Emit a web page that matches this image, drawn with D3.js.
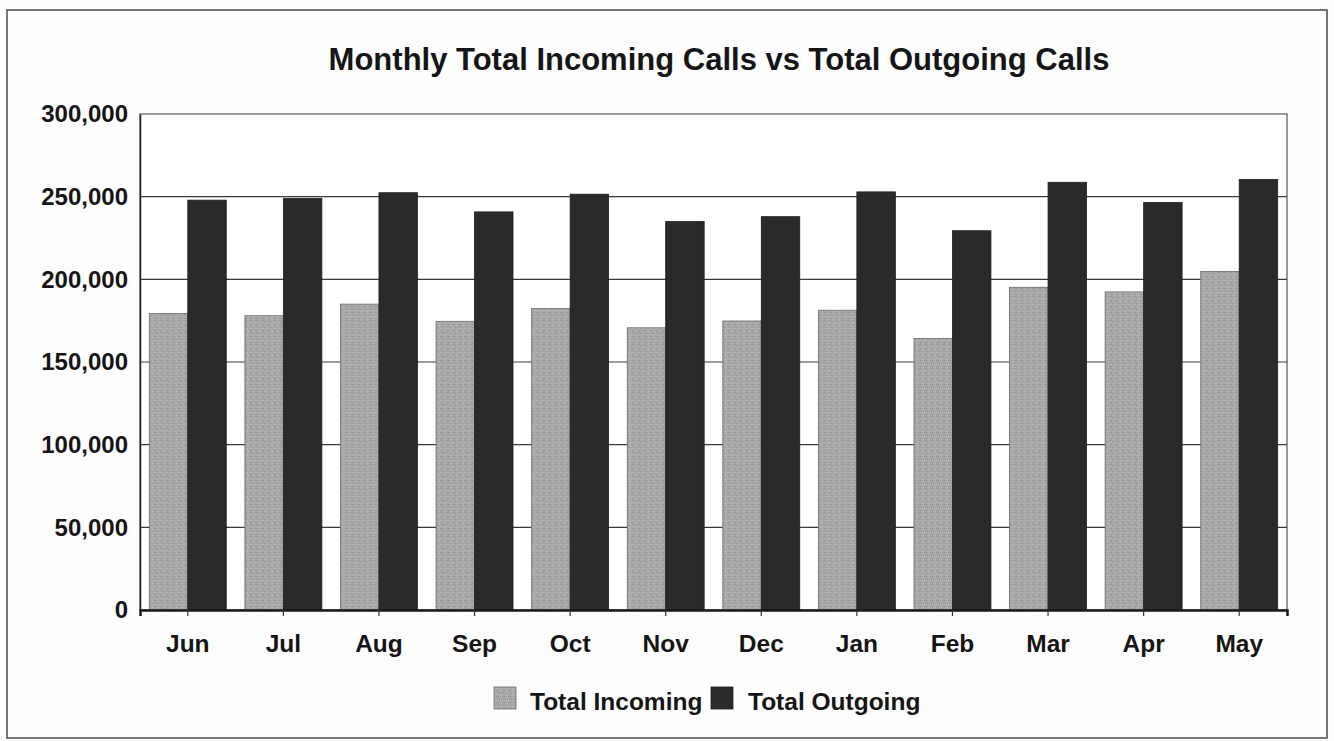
<!DOCTYPE html>
<html>
<head>
<meta charset="utf-8">
<script src="https://cdn.jsdelivr.net/npm/d3@7/dist/d3.min.js"></script>
<style>
  html, body { margin: 0; padding: 0; background: #fdfdfd; }
  svg { display: block; }
  text { font-family: "Liberation Sans", Arial, sans-serif; font-weight: bold; fill: #151515; }
</style>
</head>
<body>
<svg id="chart" width="1334" height="741"></svg>
<script>
const months = ["Jun", "Jul", "Aug", "Sep", "Oct", "Nov", "Dec", "Jan", "Feb", "Mar", "Apr", "May"];
const seriesNames = ["Total Incoming", "Total Outgoing"];
const incoming = [179300, 178000, 185000, 174600, 182300, 170700, 174800, 181300, 164200, 195200, 192400, 204800];
const outgoing = [247900, 249000, 252400, 240800, 251500, 235000, 237900, 252900, 229400, 258700, 246500, 260400];
const yTicks = [0, 50000, 100000, 150000, 200000, 250000, 300000];
const titleText = "Monthly Total Incoming Calls vs Total Outgoing Calls";

const W = 1334, H = 741;
const plot = { left: 140, right: 1287, top: 114, bottom: 610 };

const svg = d3.select("#chart");

// texture for incoming bars
const defs = svg.append("defs");
const pat = defs.append("pattern")
  .attr("id", "stipple").attr("patternUnits", "userSpaceOnUse")
  .attr("width", 6).attr("height", 6);
pat.append("rect").attr("width", 6).attr("height", 6).attr("fill", "#a8a8a8");
[[0,0,"#8a8a8a"],[3,1,"#c2c2c2"],[1,3,"#929292"],[4,4,"#bababa"],[5,2,"#909090"],[2,5,"#bdbdbd"],[0,4,"#b5b5b5"],[4,0,"#969696"]]
  .forEach(([x, y, c]) => pat.append("rect").attr("x", x).attr("y", y).attr("width", 1).attr("height", 1).attr("fill", c));

// outer frame
svg.append("rect").attr("x", 7).attr("y", 10).attr("width", W - 14).attr("height", 728)
  .attr("fill", "#fdfdfd").attr("stroke", "#4a4a4a").attr("stroke-width", 1.5);

// title
svg.append("text").attr("x", 719).attr("y", 70).attr("text-anchor", "middle")
  .attr("font-size", 31).text(titleText);

// scales
const x0 = d3.scaleBand().domain(months).range([plot.left, plot.right]).paddingInner(0.195).paddingOuter(0.0975);
const x1 = d3.scaleBand().domain(seriesNames).range([0, x0.bandwidth()]).padding(0);
const y = d3.scaleLinear().domain([0, 300000]).range([plot.bottom, plot.top]);

// plot area background & frame
svg.append("rect").attr("x", plot.left).attr("y", plot.top)
  .attr("width", plot.right - plot.left).attr("height", plot.bottom - plot.top)
  .attr("fill", "#ffffff").attr("stroke", "#555").attr("stroke-width", 1.2);

// gridlines
svg.append("g").selectAll("line").data(yTicks.filter(t => t > 0 && t < 300000)).join("line")
  .attr("x1", plot.left).attr("x2", plot.right)
  .attr("y1", d => y(d)).attr("y2", d => y(d))
  .attr("stroke", "#3a3a3a").attr("stroke-width", 1.2);

// y axis
const yAxis = d3.axisLeft(y).tickValues(yTicks).tickSize(0).tickPadding(12)
  .tickFormat(d3.format(","));
const gy = svg.append("g").attr("transform", `translate(${plot.left},0)`).call(yAxis);
gy.select(".domain").attr("stroke", "#222").attr("stroke-width", 1.5);
gy.selectAll("text").attr("font-size", 24).attr("font-family", "Liberation Sans, Arial, sans-serif")
  .attr("font-weight", "bold").attr("fill", "#151515");

// bars
const data = months.map((m, i) => ({ month: m, values: [
  { key: seriesNames[0], value: incoming[i] },
  { key: seriesNames[1], value: outgoing[i] } ] }));

const groups = svg.append("g").selectAll("g").data(data).join("g")
  .attr("transform", d => `translate(${x0(d.month)},0)`);
groups.selectAll("rect").data(d => d.values).join("rect")
  .attr("x", d => x1(d.key))
  .attr("y", d => y(d.value))
  .attr("width", x1.bandwidth())
  .attr("height", d => y(0) - y(d.value))
  .attr("fill", d => d.key === seriesNames[0] ? "url(#stipple)" : "#2a2a2a")
  .attr("stroke", d => d.key === seriesNames[0] ? "#6a6a6a" : "#1e1e1e")
  .attr("stroke-width", 0.8);

// x axis
const xAxis = d3.axisBottom(x0).tickSize(6).tickPadding(19);
const gx = svg.append("g").attr("transform", `translate(0,${plot.bottom})`).call(xAxis);
gx.select(".domain").attr("stroke", "#1a1a1a").attr("stroke-width", 2.5);
gx.selectAll(".tick line").attr("stroke", "#333").attr("stroke-width", 1.2);
gx.selectAll("text").attr("font-size", 24.5).attr("font-family", "Liberation Sans, Arial, sans-serif")
  .attr("font-weight", "bold").attr("fill", "#151515");

// legend
const legend = svg.append("g");
const legendItems = [
  { name: seriesNames[0], fill: "url(#stipple)", stroke: "#6a6a6a", x: 494, tx: 530 },
  { name: seriesNames[1], fill: "#2a2a2a", stroke: "#1e1e1e", x: 711, tx: 748 }
];
legendItems.forEach(it => {
  legend.append("rect").attr("x", it.x).attr("y", 687).attr("width", 22).attr("height", 22)
    .attr("fill", it.fill).attr("stroke", it.stroke).attr("stroke-width", 0.8);
  legend.append("text").attr("x", it.tx).attr("y", 710).attr("font-size", 24.5).text(it.name);
});
</script>
</body>
</html>
